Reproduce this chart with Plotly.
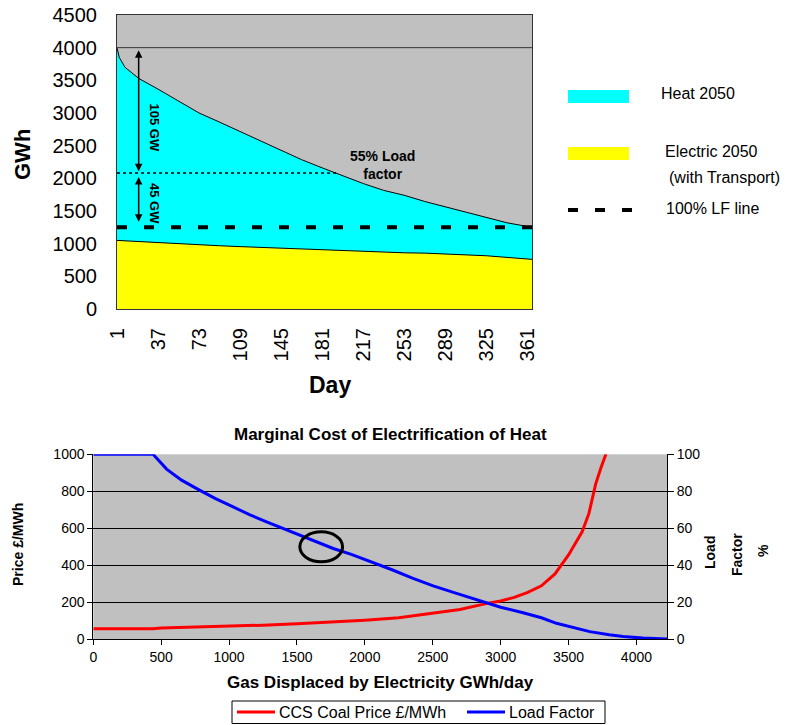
import plotly.graph_objects as go

# ---------------- Top chart data (GWh per day, load-duration) ----------------
days = [1, 3, 8, 20, 37, 55, 73, 91, 109, 127, 145, 163, 181, 199, 217, 235,
        253, 271, 289, 307, 325, 343, 365]
electric_2050 = [1050, 1048, 1045, 1035, 1020, 1000, 980, 968, 955, 942, 930,
                 918, 905, 895, 885, 872, 860, 855, 845, 832, 815, 790, 760]
heat_2050 = [2950, 2802, 2655, 2495, 2345, 2180, 2020, 1892, 1760, 1628, 1495,
             1367, 1255, 1145, 1035, 943, 880, 790, 720, 653, 585, 530, 490]
day_ticks = [1, 37, 73, 109, 145, 181, 217, 253, 289, 325, 361]
peak_gwh = 4000
split_gwh = 2080
split_end_day = 195
lf100_gwh = 1250

# ---------------- Bottom chart data ----------------
gas_price_x = [0, 440, 500, 750, 1000, 1250, 1500, 1750, 2000, 2250, 2500, 2700,
               2900, 3000, 3100, 3200, 3300, 3400, 3500, 3600, 3650, 3700, 3740, 3775]
ccs_coal_price = [55, 55, 60, 64, 68, 75, 83, 92, 102, 115, 138, 160,
                  193, 206, 225, 252, 288, 352, 455, 580, 680, 840, 930, 1000]
gas_lf_x = [0, 440, 540, 650, 785, 900, 1030, 1150, 1276, 1400, 1522, 1650, 1767,
            1900, 2013, 2200, 2350, 2503, 2675, 2800, 2896, 3000, 3165, 3300, 3411,
            3550, 3656, 3800, 3902, 4050, 4147, 4225]
load_factor = [100, 100, 92, 86, 80.5, 76, 71.5, 67.3, 63.4, 59.7, 56.2, 52.5, 49,
               45.8, 42.7, 37.5, 33, 28.8, 24.7, 21.8, 19.3, 17.2, 14.2, 11.5, 8.5,
               6, 4, 2.3, 1.3, 0.5, 0.2, 0]

FONT = "Liberation Sans, Arial, sans-serif"
OFF = 8  # page body margin
W, H = 790 - OFF, 725 - OFF
RED, BLUE = "#FF0000", "#0000FF"


def px(xp):
    return (xp - OFF) / W


def py(yp):
    return 1 - (yp - OFF) / H


def label(xp, yp, text, size, angle=0, xanchor="center"):
    return dict(x=px(xp), y=py(yp), xref="paper", yref="paper", text=text,
                textangle=angle, showarrow=False, xanchor=xanchor, yanchor="middle",
                font=dict(family=FONT, size=size, color="black"))


fig = go.Figure()

fig.add_trace(go.Scatter(x=days, y=electric_2050, stackgroup="top", mode="lines",
                         line=dict(color="black", width=1), fillcolor="#FFFF00",
                         name="Electric 2050", showlegend=False, hoverinfo="skip",
                         xaxis="x", yaxis="y"))
fig.add_trace(go.Scatter(x=days, y=heat_2050, stackgroup="top", mode="lines",
                         line=dict(color="black", width=1), fillcolor="#00FFFF",
                         name="Heat 2050", showlegend=False, hoverinfo="skip",
                         xaxis="x", yaxis="y"))

fig.add_trace(go.Scatter(x=gas_price_x, y=ccs_coal_price, mode="lines",
                         line=dict(color=RED, width=3), showlegend=False,
                         name="CCS Coal Price £/MWh", xaxis="x2", yaxis="y2"))
fig.add_trace(go.Scatter(x=gas_lf_x, y=load_factor, mode="lines",
                         line=dict(color=BLUE, width=3), showlegend=False,
                         name="Load Factor", xaxis="x2", yaxis="y3"))

shapes = [
    dict(type="line", xref="x", yref="y", x0=1, x1=365, y0=peak_gwh, y1=peak_gwh,
         line=dict(color="#333333", width=1)),
    dict(type="line", xref="x", yref="y", x0=1, x1=split_end_day, y0=split_gwh, y1=split_gwh,
         line=dict(color="black", width=1.5, dash="dot")),
    dict(type="line", xref="x", yref="y", x0=1, x1=365, y0=lf100_gwh, y1=lf100_gwh,
         line=dict(color="black", width=4, dash="10px,17px")),
    dict(type="circle", xref="x2", yref="y2", x0=1521, x1=1836, y0=418, y1=580,
         line=dict(color="black", width=3)),
    # top legend swatches
    dict(type="rect", xref="paper", yref="paper", x0=px(568), x1=px(629), y0=py(103), y1=py(90),
         fillcolor="#00FFFF", line=dict(width=0)),
    dict(type="rect", xref="paper", yref="paper", x0=px(568), x1=px(629), y0=py(160), y1=py(147),
         fillcolor="#FFFF00", line=dict(width=0)),
    dict(type="line", xref="paper", yref="paper", x0=px(568), x1=px(632), y0=py(210), y1=py(210),
         line=dict(color="black", width=4, dash="10px,17px")),
    # bottom legend box and samples
    dict(type="rect", xref="paper", yref="paper", x0=px(232), x1=px(605), y0=py(723.5), y1=py(701),
         fillcolor="white", line=dict(color="black", width=1)),
    dict(type="line", xref="paper", yref="paper", x0=px(237), x1=px(275), y0=py(712), y1=py(712),
         line=dict(color=RED, width=3)),
    dict(type="line", xref="paper", yref="paper", x0=px(467), x1=px(505), y0=py(712), y1=py(712),
         line=dict(color=BLUE, width=3)),
]

annotations = [
    dict(x=20, y=2110, ax=20, ay=3985, xref="x", yref="y", axref="x", ayref="y",
         text="", showarrow=True, arrowhead=2, startarrowhead=2, arrowside="end+start",
         arrowwidth=1.5, arrowsize=1, arrowcolor="black", standoff=0, startstandoff=0),
    dict(x=20, y=1335, ax=20, ay=2045, xref="x", yref="y", axref="x", ayref="y",
         text="", showarrow=True, arrowhead=2, startarrowhead=2, arrowside="end+start",
         arrowwidth=1.5, arrowsize=1, arrowcolor="black", standoff=0, startstandoff=0),
    dict(x=34.3, y=2778, xref="x", yref="y", text="<b>105 GW</b>", textangle=90,
         showarrow=False, xanchor="center", yanchor="middle",
         font=dict(family=FONT, size=13, color="black")),
    dict(x=34.3, y=1607, xref="x", yref="y", text="<b>45 GW</b>", textangle=90,
         showarrow=False, xanchor="center", yanchor="middle",
         font=dict(family=FONT, size=13, color="black")),
    dict(x=234, y=2204, xref="x", yref="y", text="<b>55% Load<br>factor</b>",
         showarrow=False, align="center", xanchor="center", yanchor="middle",
         font=dict(family=FONT, size=14, color="black")),
    # top axis titles
    label(22, 155, "<b>GWh</b>", 22, angle=-90),
    label(330, 385, "<b>Day</b>", 23),
    # top legend text
    label(659, 93, "Heat 2050", 16, xanchor="left"),
    label(663, 151, "Electric 2050", 16, xanchor="left"),
    label(667, 177, "(with Transport)", 16, xanchor="left"),
    label(664, 208, "100% LF line", 16, xanchor="left"),
    # bottom titles
    label(390, 434, "<b>Marginal Cost of Electrification of Heat</b>", 17),
    label(380, 682, "<b>Gas Displaced by Electricity GWh/day</b>", 17),
    label(18, 545, "<b>Price £/MWh</b>", 14, angle=-90),
    label(710, 553, "<b>Load</b>", 14, angle=-90),
    label(737, 555, "<b>Factor</b>", 14, angle=-90),
    label(763, 551, "<b>%</b>", 14, angle=-90),
    # bottom legend text
    label(277, 712, "CCS Coal Price £/MWh", 16, xanchor="left"),
    label(507, 712, "Load Factor", 16, xanchor="left"),
]

fig.update_layout(
    width=W, height=H, autosize=False,
    margin=dict(l=0, r=0, t=0, b=0, autoexpand=False),
    paper_bgcolor="white", plot_bgcolor="#C0C0C0",
    font=dict(family=FONT, color="black"),
    showlegend=False,
    xaxis=dict(domain=[px(117), px(532)], anchor="y", range=[1, 365],
               tickvals=day_ticks, tickangle=-90, tickfont=dict(size=20),
               showline=True, linecolor="#333333", linewidth=1, mirror=True,
               showgrid=False, zeroline=False, ticks="", ticklabelstandoff=10,
               automargin=False, ticklabeloverflow="allow"),
    yaxis=dict(domain=[py(309), py(15)], anchor="x", range=[0, 4500], dtick=500,
               tickfont=dict(size=20), showline=True, linecolor="#333333", linewidth=1,
               mirror=True, showgrid=False, zeroline=False, ticks="",
               ticklabelstandoff=15, automargin=False, ticklabeloverflow="allow"),
    xaxis2=dict(domain=[px(93.3), px(667)], anchor="y2", range=[0, 4225], dtick=500,
                tickfont=dict(size=14), showline=True, linecolor="black", linewidth=1,
                showgrid=False, zeroline=False, ticks="outside", ticklen=5,
                tickcolor="black", automargin=False, ticklabeloverflow="allow"),
    yaxis2=dict(domain=[py(639), py(454.3)], anchor="x2", range=[0, 1000], dtick=200,
                tickfont=dict(size=14), showline=True, linecolor="black", linewidth=1,
                showgrid=True, gridcolor="black", gridwidth=1, zeroline=False,
                ticks="outside", ticklen=5, tickcolor="black", automargin=False,
                ticklabeloverflow="allow"),
    yaxis3=dict(overlaying="y2", side="right", anchor="x2", range=[0, 100], dtick=20,
                tickfont=dict(size=14), showline=True, linecolor="black", linewidth=1,
                showgrid=False, zeroline=False, ticks="outside", ticklen=6,
                tickcolor="black", automargin=False, ticklabeloverflow="allow"),
    shapes=shapes,
    annotations=annotations,
)

fig.write_html("out.html")
